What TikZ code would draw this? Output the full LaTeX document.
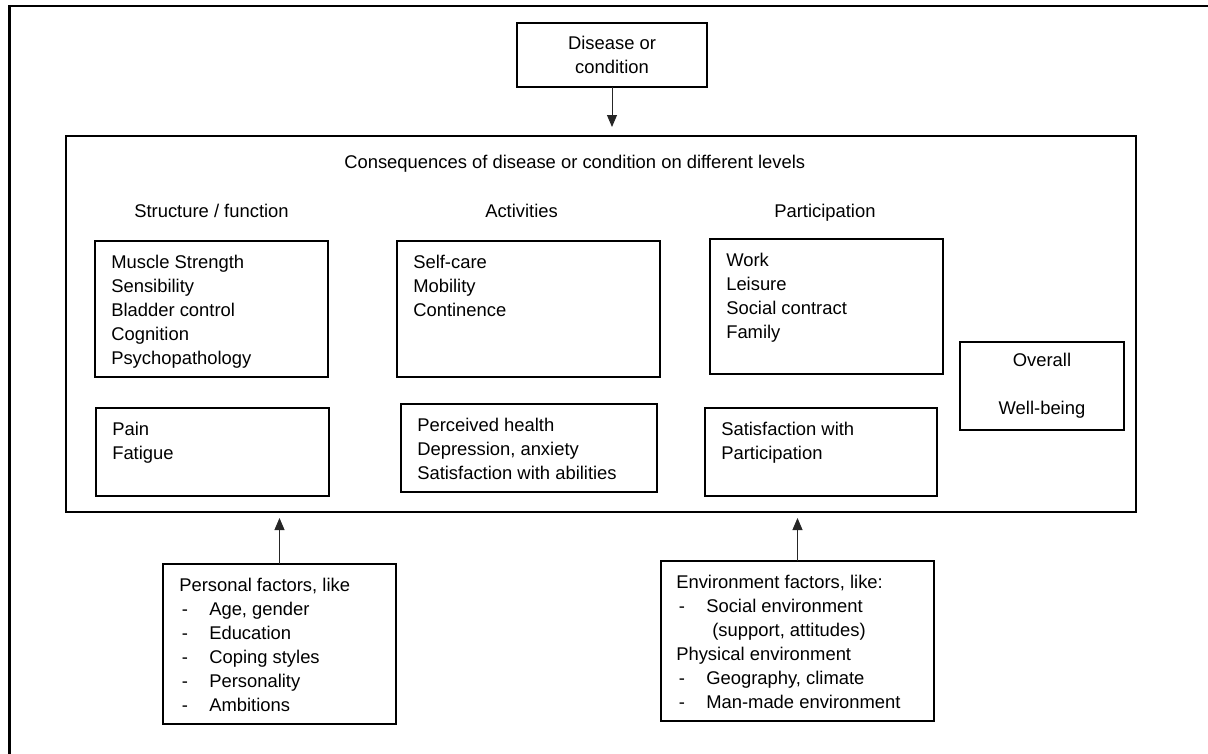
\documentclass[tikz,border=0pt]{standalone}
\usepackage{fontspec}
\setmainfont{Liberation Sans}
\usetikzlibrary{arrows.meta}

\tikzset{
  panel/.style 2 args={draw, line width=0.8pt, inner sep=0pt, outer sep=0pt,
    minimum width=#1*0.75pt, minimum height=#2*0.75pt, anchor=north west},
  lst/.style={anchor=north west, align=left, inner sep=0pt},
  head/.style={anchor=base west, inner sep=0pt},
  arr/.style={-{Triangle[length=9pt,width=7.5pt]}, line width=0.7pt, black!85}
}
\newcommand{\dashitem}[1]{\hspace*{2pt}\makebox[20.5pt][l]{-}#1}

\begin{document}
\begin{tikzpicture}[x=0.75pt, y=-0.75pt, font=\fontsize{13.8}{18}\selectfont]
  \useasboundingbox (0,0) rectangle (1208,754);

  % Frame
  \draw[line width=1.6pt] (9.5,754) -- (9.5,6) -- (1208,6);

  % Disease
  \node[panel={190}{64}, align=center] (dis) at (517,23) {Disease or\\condition};

  % Consequences
  \node[panel={1070}{376}, line width=1.6pt] (cons) at (66,136) {};
  \node[head] (consT) at (344,168) {Consequences of disease or condition on different levels};

  %Levels
  \foreach \n/\x/\t in {sfL/134/{Structure / function}, actL/485/Activities, partL/774/Participation}
    \node[head] (\n) at (\x,217) {\t};

  %Boxes, text 16/14 from the corner
  \foreach \n/\x/\y/\w/\h/\t in {
      sf/95/241/233/136/{Muscle Strength\\Sensibility\\Bladder control\\Cognition\\Psychopathology},
      act/397/241/263/136/{Self-care\\Mobility\\Continence},
      part/710/239/233/135/{Work\\Leisure\\Social contract\\Family},
      pain/96/408/233/88/{Pain\\Fatigue},
      health/401/404/256/88/{Perceived health\\Depression, anxiety\\Satisfaction with abilities},
      sat/705/408/232/88/{Satisfaction with\\Participation}}
    {\node[panel={\w}{\h}] (\n) at (\x,\y) {};
     \node[lst] (\n-t) at ([shift={(16,14)}]\n.north west) {\t};}

  % Overall
  \node[panel={164}{88}, line width=1.3pt, align=center] (well) at (960,342) {Overall\\ \\Well-being};

  % Factors
  \node[panel={233}{160}] (pers) at (163,564) {};
  \node[lst] (pers-t) at ([shift={(16,14)}]pers.north west)
    {Personal factors, like\\\dashitem{Age, gender}\\\dashitem{Education}\\
     \dashitem{Coping styles}\\\dashitem{Personality}\\\dashitem{Ambitions}};

  \node[panel={273}{160}] (env) at (661,561) {};
  \node[lst] (env-t) at ([shift={(15,14)}]env.north west)
    {Environment factors, like:\\\dashitem{Social environment}\\\hspace*{27pt}(support, attitudes)\\
     Physical environment\\\dashitem{Geography, climate}\\\dashitem{Man-made environment}};

  % Arrows
  \draw[arr, shorten >=6.75pt] (dis) -- (dis |- cons.north);
  \draw[arr, shorten >=4.5pt] (pers) -- (pers |- cons.south);
  \draw[arr, shorten >=4.5pt] (env) -- (env |- cons.south);

\end{tikzpicture}
\end{document}
